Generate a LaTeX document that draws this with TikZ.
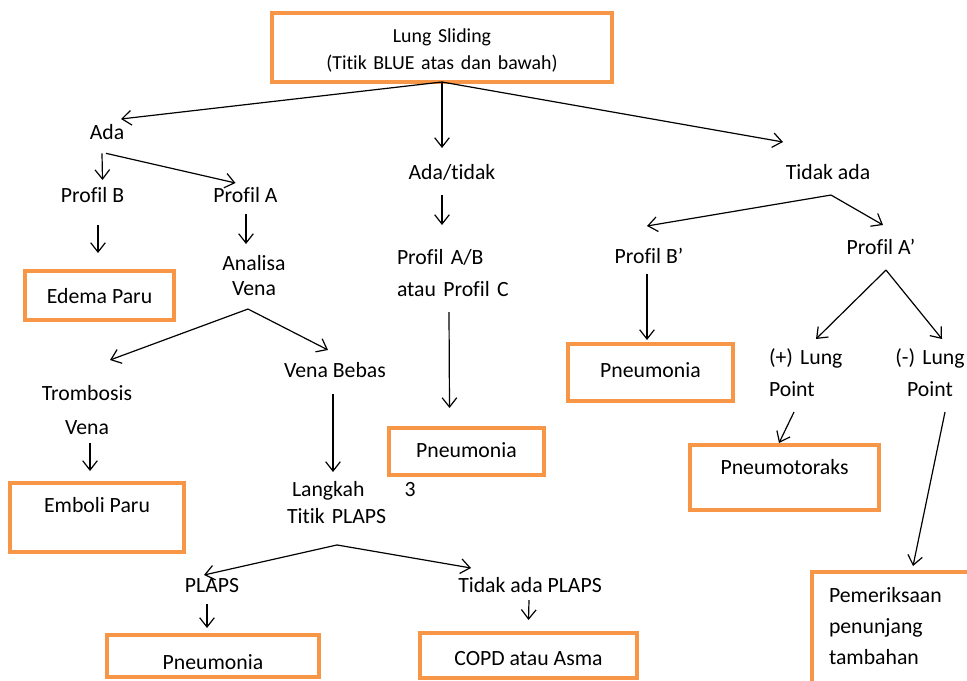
\documentclass[tikz,border=0pt]{standalone}
\usepackage{fontspec}
\setmainfont{Carlito}[Ligatures={TeX,NoCommon}]
\usepackage{xcolor}
\usetikzlibrary{arrows.meta, calc, positioning}
\definecolor{boxorange}{RGB}{247,150,70}

\begin{document}
\begin{tikzpicture}[
  x=0.75pt, y=-0.75pt,
  lbl/.style={
    font=\fontsize{16.3}{24}\selectfont, inner sep=0pt, outer sep=0pt,
    anchor=base, text height=12pt, text depth=4pt},
  box/.style={
    rectangle, draw=boxorange, line width=2.5pt,
    inner sep=0pt, outer sep=0pt, align=center,
    font=\fontsize{16.3}{24}\selectfont},
  arr/.style={-{Straight Barb[length=7pt, width=11pt]}, line width=0.9pt},
]
\useasboundingbox (0,0) rectangle (967,681);

%% ---- boxes ----
\node[box, minimum width=255pt, minimum height=51.75pt, text width=240pt,
  font=\fontsize{14.9}{20.25}\selectfont, text height=10pt, text depth=17.5pt]
  (topbox) at (442,47.5) {Lung Sliding\\(Titik BLUE atas dan bawah)};

\node[box, minimum width=111.75pt, minimum height=36.75pt,
  text height=15.25pt, text depth=4pt] (edema) at (99.5,295.5) {Edema Paru};
\node[box, minimum width=130.5pt, minimum height=51.75pt,
  text height=8pt, text depth=16.25pt] (emboli) at (97,517.5) {Emboli Paru};
\node[box, minimum width=159pt, minimum height=31.5pt,
  text height=19.5pt, text depth=0pt] (pneu1) at (213,656) {Pneumonia};
\node[box, minimum width=162.75pt, minimum height=33.75pt,
  text height=16.25pt, text depth=2pt] (copd) at (528.5,655.5) {COPD atau Asma};
\node[box, minimum width=116.25pt, minimum height=35.25pt,
  text height=12.25pt, text depth=4pt] (pneu2) at (466.5,451.5) {Pneumonia};
\node[box, minimum width=123.75pt, minimum height=42.75pt,
  text height=10.75pt, text depth=4pt] (pneu3) at (650.5,372.5) {Pneumonia};
\node[box, minimum width=141.75pt, minimum height=48.75pt,
  text height=4.75pt, text depth=10pt] (pneumo) at (784.5,477.5) {Pneumotoraks};
\node[box, anchor=north west, text width=300pt, align=left,
  inner xsep=12.75pt, font=\fontsize{16.3}{23.25}\selectfont,
  text height=22.5pt, text depth=150pt]
  (periksa) at (812,572) {Pemeriksaan\\penunjang\\tambahan};

%% ---- labels ----
\node[lbl] (ada) at (107,140) {Ada};
\node[lbl] (adatidak) at (452,180) {Ada/tidak};
\node[lbl] (tidakada) at (828,180) {Tidak ada};
\node[lbl] (profb) at (92.5,203) {Profil B};
\node[lbl] (profa) at (245.5,203) {Profil A};
\node[lbl] (venabebas) at (335,377) {Vena Bebas};
\node[lbl] (plaps) at (212,592) {PLAPS};
\node[lbl] (tidakplaps) at (530,592) {Tidak ada PLAPS};
\node[lbl] (profbp) at (649,263) {Profil B’};
\node[lbl] (profap) at (881,254) {Profil A’};

\node[lbl, text width=80pt, align=center, text depth=22.75pt,
  font=\fontsize{16.3}{18.75}\selectfont]
  (analisa) at (254,270) {Analisa\\Vena};
\node[lbl, text width=90pt, align=center, text depth=29.5pt,
  font=\fontsize{16.3}{25.5}\selectfont]
  (trombosis) at (87,400) {Trombosis\\Vena};
\node[lbl, anchor=base west, text width=97.5pt, align=left, text depth=24.2pt,
  font=\fontsize{16.3}{20.25}\selectfont]
  (langkah) at (287,496) {\hspace*{3.75pt}Langkah\hspace{30pt}3\\Titik PLAPS};
\node[lbl, anchor=base west, text width=90pt, align=left, text depth=28pt]
  (profab) at (397,264) {Profil A/B\\atau Profil C};
\node[lbl, anchor=base west, text width=75pt, align=left, text depth=28pt]
  (pluslung) at (769,364) {(+) Lung\\Point};
\node[lbl, text width=75pt, align=center, text depth=28pt]
  (minlung) at (930,364) {(-) Lung\\Point};

%% ---- branch points ----
\coordinate (adaS) at ($(ada.south)+(-3,8)$);
\coordinate (analisaS) at ($(analisa.south)+(-6,8.7)$);
\coordinate (langkahS) at ($(langkah.south)+(-15,16.7)$);
\coordinate (tidakadaS) at ($(tidakada.south)+(3,9.7)$);
\coordinate (profapS) at ($(profap.south)+(5,10.7)$);

%% ---- connectors ----
\draw[arr] (topbox.south) -- ($(ada.north)+(14,-5)$);
\draw[arr] (topbox.south) -- ($(adatidak.north)+(-10,-16)$);
\draw[arr] (topbox.south) -- ($(tidakada.north)+(-45,-22)$);

\draw[arr] ($(adaS)+(-2,0)$) -- ($(profb.north)+(10,-7)$);
\draw[arr] ($(adaS)+(2,0)$) -- ($(profa.north)+(-10,-4)$);
\draw[arr] ($(profb.south)+(5.5,17)$) -- ($(edema.north)+(-1.5,-18)$);
\draw[arr] ($(profa.south)+(0.5,5.7)$) -- ($(analisa.north)+(-8,-10)$);
\draw[arr] (analisaS) -- ($(trombosis.north)+(23,-24)$);
\draw[arr] (analisaS) -- ($(venabebas.north)+(-7,-11)$);
\draw[arr] ($(trombosis.south)+(3,3.7)$) -- ($(emboli.north)+(-7,-12)$);
\draw[arr] ($(venabebas.south)+(-2,11.7)$) -- ($(langkah.north)+(-19,-8)$);
\draw[arr] (langkahS) -- ($(plaps.north)+(-8,-1)$);
\draw[arr] (langkahS) -- ($(tidakplaps.north)+(-59,-8)$);
\draw[arr] ($(plaps.south)+(-5,6.7)$) -- ($(pneu1.north)+(-6,-7)$);
\draw[arr] ($(tidakplaps.south)+(-1,2.7)$) -- ($(copd.north)+(0,-13)$);

\draw[arr] ($(adatidak.south)+(-10,9.7)$) -- ($(profab.north)+(-15,-23)$);
\draw[arr] ($(profab.south)+(-8,10.7)$) -- ($(pneu2.north)+(-17,-20)$);

\draw[arr] (tidakadaS) -- ($(profbp.north)+(-2,-21)$);
\draw[arr] (tidakadaS) -- ($(profap.north)+(2,-13)$);
\draw[arr] ($(profbp.south)+(-2,5.7)$) -- ($(pneu3.north)+(-3.5,-4)$);
\draw[arr] (profapS) -- ($(pluslung.north)+(-3,-9)$);
\draw[arr] (profapS) -- ($(minlung.north)+(12,-9)$);
\draw[arr] ($(pluslung.south)+(-25,10.7)$) -- ($(pneumo.north)+(-5.5,-2)$);
\draw[arr] ($(minlung.south)+(15,10.7)$) -- ($(periksa.north west)+(101,-6)$);

\end{tikzpicture}
\end{document}
